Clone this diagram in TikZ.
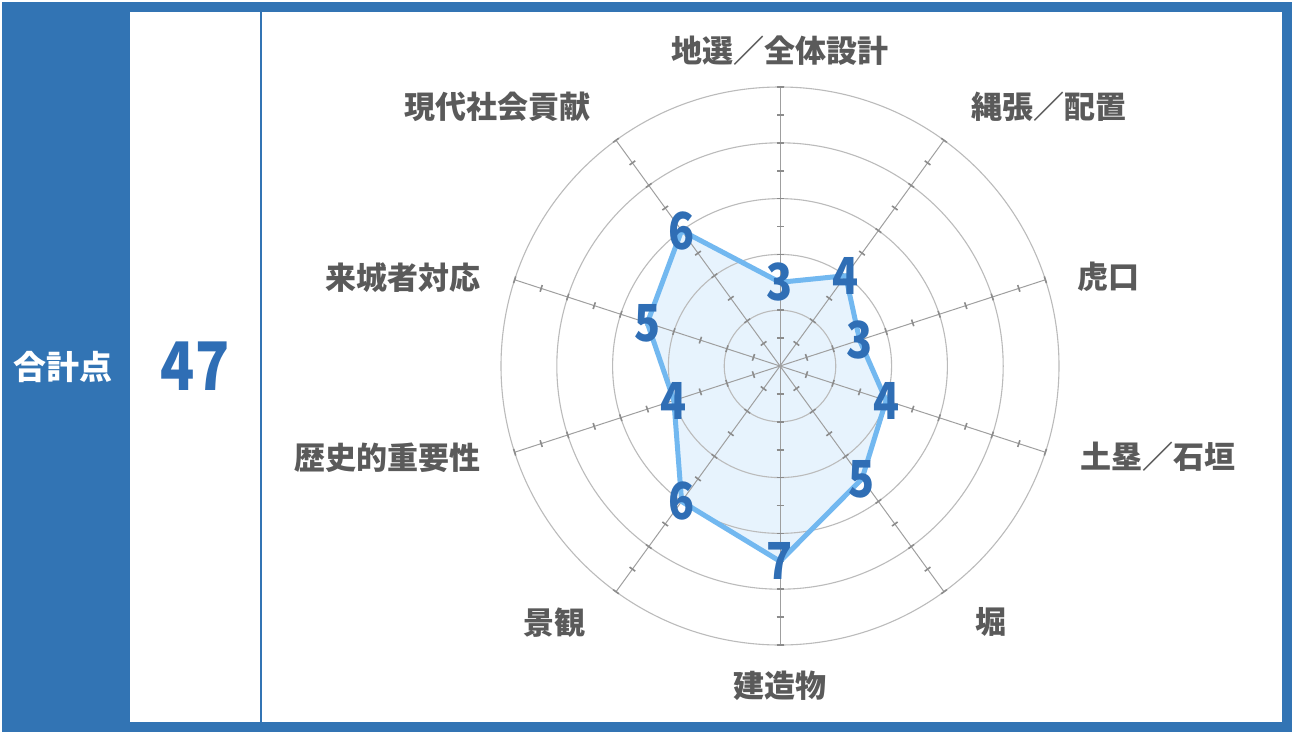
\documentclass[tikz,border=0pt]{standalone}
\usepackage{fontspec}
\setmainfont{Noto Sans CJK JP}
\newfontfamily\digitfont{Noto Sans CJK JP}[FakeStretch=0.84]
\definecolor{frameblue}{HTML}{3274B4}
\definecolor{scoreblue}{HTML}{2F6EB5}
\definecolor{lineblue}{HTML}{72B8F0}
\definecolor{fillblue}{HTML}{E7F3FD}
\definecolor{labelgray}{HTML}{5A5A5A}
\definecolor{gridgray}{HTML}{BBBBBB}
\definecolor{tickgray}{HTML}{8C8C8C}
\tikzset{
  axislabel/.style={font=\bfseries\fontsize{31}{31}\selectfont, text=labelgray, inner sep=0pt},
  pointscore/.style={font=\digitfont\bfseries\fontsize{51}{51}\selectfont, text=scoreblue, inner sep=0pt},
}
\begin{document}
\begin{tikzpicture}[x=1pt,y=-1pt]
    \useasboundingbox (0,0) rectangle (1294,734);
    \fill[frameblue] (2,2) rectangle (1292,732);
    \fill[white] (130,12) rectangle (1282,722);
    \draw[frameblue, line width=2pt] (261,12) -- (261,722);
    \node[font=\bfseries\fontsize{33}{33}\selectfont, text=white, inner sep=0pt] (totalname) at (63,367) {合計点};
    \node[font=\digitfont\bfseries\fontsize{67}{67}\selectfont, text=scoreblue, inner sep=0pt] (totalscore) at (195,366) {47};

    % radar chart, 27.9 per point, centre (780,366)
    \begin{scope}[shift={(780,366)}]
        \foreach \v [count=\i from 0] in {3,4,3,4,5,7,6,4,5,6}
            \coordinate (p\i) at (-90+36*\i:\v*27.9);
        \fill[fillblue] (p0) -- (p1) -- (p2) -- (p3) -- (p4) -- (p5) -- (p6) -- (p7) -- (p8) -- (p9) -- cycle;
        \foreach \k in {2,4,6,8,10}
            \draw[gridgray, line width=1.1pt] (0,0) circle[radius=\k*27.9];
        \foreach \i in {0,...,9} {
            \draw[gridgray!85!black, line width=1pt] (0,0) -- (-90+36*\i:279);
            \foreach \k in {1,...,10}
                \draw[tickgray, line width=1.6pt] (-90+36*\i:\k*27.9) ++(36*\i:3.5) -- ++(180+36*\i:7);
        }
        \draw[lineblue, line width=5pt, line join=round] (p0) -- (p1) -- (p2) -- (p3) -- (p4) -- (p5) -- (p6) -- (p7) -- (p8) -- (p9) -- cycle;
        \foreach \v [count=\i from 0] in {3,4,3,4,5,7,6,4,5,6}
            \node[pointscore] (score\i) at (p\i) {\v};
    \end{scope}

    \node[axislabel] (lblsite)    at (780,51)    {地選／全体設計};
    \node[axislabel] (lbllayout)  at (1049,107)  {縄張／配置};
    \node[axislabel] (lblgate)    at (1108,277)  {虎口};
    \node[axislabel] (lblwall)    at (1158,457)  {土塁／石垣};
    \node[axislabel] (lblmoat)    at (991,622)   {堀};
    \node[axislabel] (lblbuild)   at (780,686)   {建造物};
    \node[axislabel] (lblview)    at (554,623)   {景観};
    \node[axislabel] (lblhistory) at (387,458)   {歴史的重要性};
    \node[axislabel] (lblvisitor) at (403,278)   {来城者対応};
    \node[axislabel] (lblsociety) at (497,107)   {現代社会貢献};
\end{tikzpicture}
\end{document}
